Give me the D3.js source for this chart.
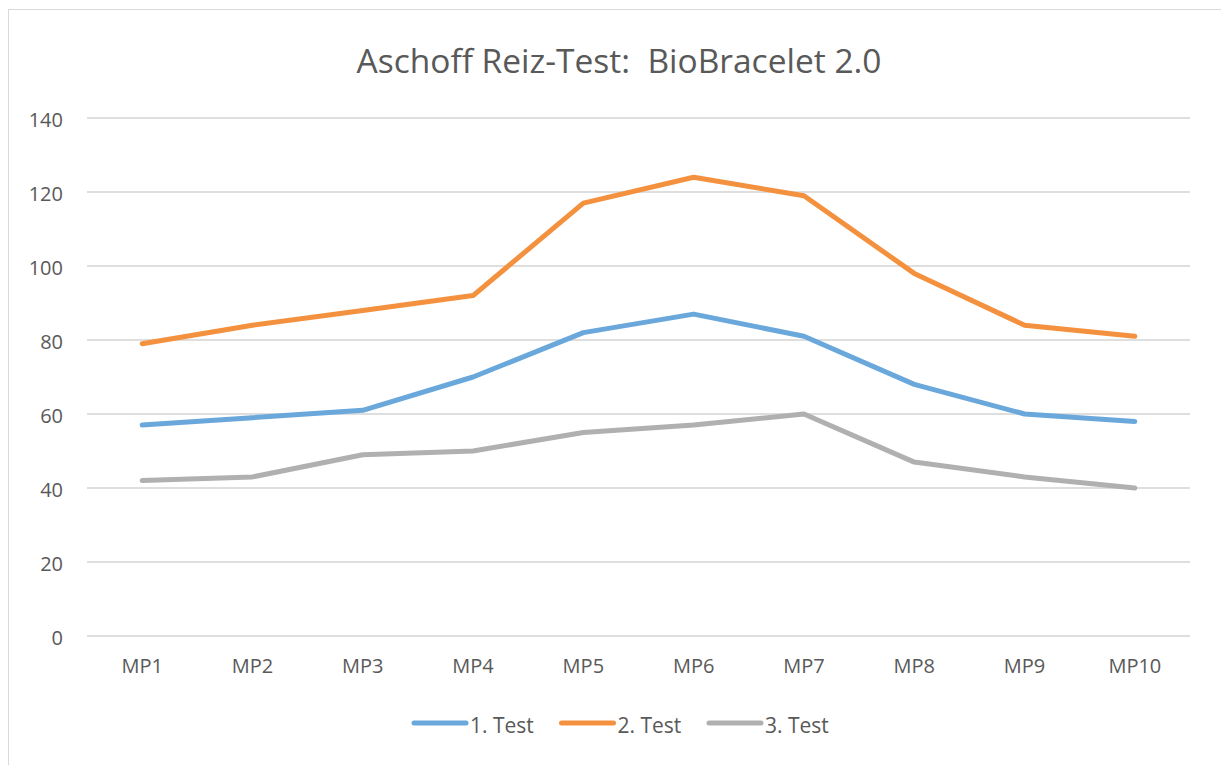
<!DOCTYPE html>
<html>
<head>
<meta charset="utf-8">
<script src="https://cdn.jsdelivr.net/npm/d3@7"></script>
<style>
  html, body { margin: 0; padding: 0; background: #fff; }
  svg { display: block; font-family: "Open Sans", sans-serif; }
</style>
</head>
<body>
<div id="chart"></div>
<script>
const categories = ["MP1", "MP2", "MP3", "MP4", "MP5", "MP6", "MP7", "MP8", "MP9", "MP10"];
const seriesNames = ["1. Test", "2. Test", "3. Test"];
const test1 = [57, 59, 61, 70, 82, 87, 81, 68, 60, 58];
const test2 = [79, 84, 88, 92, 117, 124, 119, 98, 84, 81];
const test3 = [42, 43, 49, 50, 55, 57, 60, 47, 43, 40];
const yTicks = [0, 20, 40, 60, 80, 100, 120, 140];
const colors = ["#6AA8DC", "#F4913F", "#B0B0B0"];

const width = 1221, height = 765;
const margin = { top: 118, right: 31, bottom: 129, left: 87 };

const svg = d3.select("#chart").append("svg")
    .attr("width", width)
    .attr("height", height);

// chart frame
svg.append("rect")
    .attr("x", 8.5).attr("y", 9.5)
    .attr("width", width).attr("height", height)
    .attr("fill", "#fff")
    .attr("stroke", "#d9d9d9");

svg.append("text")
    .attr("x", 619).attr("y", 73)
    .attr("text-anchor", "middle")
    .attr("font-size", 33.5)
    .attr("fill", "#595959")
    .style("white-space", "pre")
    .text("Aschoff Reiz-Test:  BioBracelet 2.0");

const x = d3.scaleBand()
    .domain(categories)
    .range([margin.left, width - margin.right]);

const y = d3.scaleLinear()
    .domain([0, 140])
    .range([height - margin.bottom, margin.top]);

// gridlines
svg.append("g")
    .selectAll("line")
    .data(yTicks)
    .join("line")
    .attr("x1", margin.left).attr("x2", width - margin.right)
    .attr("y1", d => y(d)).attr("y2", d => y(d))
    .attr("stroke", "#dedede")
    .attr("stroke-width", 2);

// y axis labels
const yAxis = d3.axisLeft(y).tickValues(yTicks).tickSize(0).tickPadding(0);
svg.append("g")
    .attr("transform", `translate(${margin.left - 24},2)`)
    .call(yAxis)
    .call(g => g.select(".domain").remove())
    .selectAll("text")
    .attr("font-size", 20)
    .attr("font-family", "Open Sans, sans-serif")
    .attr("fill", "#595959");

// x axis labels
const xAxis = d3.axisBottom(x).tickSize(0).tickPadding(0);
svg.append("g")
    .attr("transform", `translate(0,${y(0) + 23})`)
    .call(xAxis)
    .call(g => g.select(".domain").remove())
    .selectAll("text")
    .attr("font-size", 20)
    .attr("font-family", "Open Sans, sans-serif")
    .attr("fill", "#595959");

const line = d3.line()
    .x((d, i) => x(categories[i]) + x.bandwidth() / 2)
    .y(d => y(d));

[test1, test2, test3].forEach((vals, i) => {
    svg.append("path")
        .datum(vals)
        .attr("fill", "none")
        .attr("stroke", colors[i])
        .attr("stroke-width", 5)
        .attr("stroke-linejoin", "round")
        .attr("stroke-linecap", "round")
        .attr("d", line);
});

// legend
const legend = svg.append("g").attr("transform", "translate(412,723)");
seriesNames.forEach((name, i) => {
    const g = legend.append("g").attr("transform", `translate(${i * 147.5},0)`);
    g.append("line")
        .attr("x1", 2).attr("x2", 54)
        .attr("y1", 0).attr("y2", 0)
        .attr("stroke", colors[i])
        .attr("stroke-width", 5)
        .attr("stroke-linecap", "round");
    g.append("text")
        .attr("x", 58).attr("y", 10)
        .attr("font-size", 21)
        .attr("fill", "#595959")
        .text(name);
});
</script>
</body>
</html>
